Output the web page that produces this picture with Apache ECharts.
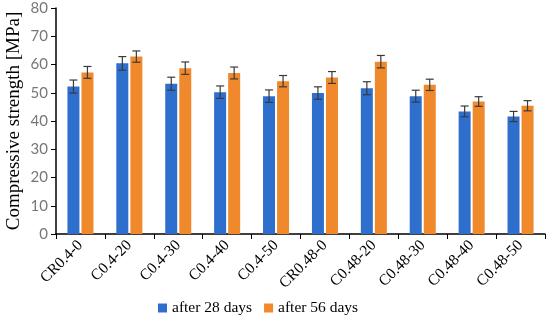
<!DOCTYPE html>
<html><head><meta charset="utf-8">
<script src="https://cdn.jsdelivr.net/npm/echarts@6/dist/echarts.min.js"></script>
<style>html,body{margin:0;padding:0;background:#fff}#c{width:550px;height:321px}</style>
</head><body><div id="c"></div>
<script>
const categories = ['CR0.4-0','C0.4-20','C0.4-30','C0.4-40','C0.4-50','CR0.48-0','C0.48-20','C0.48-30','C0.48-40','C0.48-50'];
const days28 = [52.2, 60.4, 53.2, 50.2, 48.8, 49.9, 51.6, 48.8, 43.4, 41.6];
const days56 = [57.2, 62.8, 58.7, 57.0, 54.1, 55.4, 61.0, 52.8, 46.9, 45.4];
const err28 = [2.3, 2.4, 2.3, 2.2, 2.2, 2.2, 2.3, 2.1, 1.9, 1.8];
const err56 = [2.1, 2.0, 2.2, 2.1, 2.0, 2.1, 2.2, 2.0, 1.7, 1.8];
const yTicks = [0, 10, 20, 30, 40, 50, 60, 70, 80];

const serif = '"Liberation Serif", "DejaVu Serif", serif';
function errSeries(vals, errs, offset, color) {
  return {
    type: 'custom',
    silent: true,
    z: 10,
    data: vals.map((v, i) => [i, v - errs[i], v + errs[i]]),
    renderItem: function (params, api) {
      const lo = api.coord([api.value(0), api.value(1)]);
      const hi = api.coord([api.value(0), api.value(2)]);
      const x = lo[0] + offset;
      const hw = 4;
      const st = { stroke: color, lineWidth: 1.2 };
      return { type: 'group', children: [
        { type: 'line', shape: { x1: x, y1: lo[1], x2: x, y2: hi[1] }, style: st },
        { type: 'line', shape: { x1: x - hw, y1: lo[1], x2: x + hw, y2: lo[1] }, style: st },
        { type: 'line', shape: { x1: x - hw, y1: hi[1], x2: x + hw, y2: hi[1] }, style: st }
      ]};
    }
  };
}
const chart = echarts.init(document.getElementById('c'));
chart.setOption({
  animation: false,
  grid: { left: 56, right: 5, top: 8, bottom: 87, containLabel: false, outerBoundsMode: 'none' },
  legend: {
    bottom: 0, left: 153, itemWidth: 9, itemHeight: 9, itemGap: 12,
    icon: 'rect',
    textStyle: { fontFamily: serif, fontSize: 15.5, color: '#000' },
    data: ['after 28 days', 'after 56 days']
  },
  xAxis: {
    type: 'category', data: categories,
    axisLine: { lineStyle: { color: '#000', width: 1.5 } },
    axisTick: { show: true, length: 5, lineStyle: { color: '#000' } },
    axisLabel: { rotate: 45, fontFamily: serif, fontSize: 15.5, color: '#000', margin: 9, interval: 0 }
  },
  yAxis: {
    type: 'value', min: yTicks[0], max: yTicks[yTicks.length - 1], interval: 10,
    name: 'Compressive strength [MPa]', nameLocation: 'middle', nameGap: 32,
    nameMoveOverlap: false,
    nameTextStyle: { fontFamily: serif, fontSize: 19, color: '#000' },
    axisLine: { show: true, lineStyle: { color: '#000', width: 1.5 } },
    axisTick: { show: true, length: 5, lineStyle: { color: '#000' } },
    splitLine: { show: false },
    axisLabel: { fontFamily: 'Lato, sans-serif', fontSize: 15, color: '#777', margin: 8 }
  },
  series: [
    { name: 'after 28 days', type: 'bar', data: days28, barWidth: 12, barGap: '17%', itemStyle: { color: '#2e6ecd' } },
    { name: 'after 56 days', type: 'bar', data: days56, barWidth: 12, itemStyle: { color: '#f0882c' } },
    errSeries(days28, err28, -7, '#3a3a3a'),
    errSeries(days56, err56, 7, '#3a3a3a')
  ]
});
</script></body></html>
